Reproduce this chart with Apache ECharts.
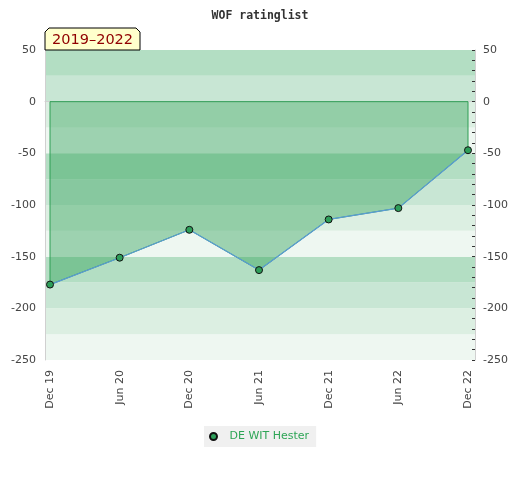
<!DOCTYPE html>
<html>
<head>
<meta charset="utf-8">
<script src="https://cdn.jsdelivr.net/npm/echarts@6/dist/echarts.min.js"></script>
<style>html,body{margin:0;padding:0;background:#fff}#c{width:520px;height:480px}</style>
</head>
<body>
<div id="c"></div>
<script>
var categories = ['Dec 19', 'Jun 20', 'Dec 20', 'Jun 21', 'Dec 21', 'Jun 22', 'Dec 22'];
var ratingValues = [-177, -151, -124, -163, -114, -103, -47];
var seriesName = 'DE WIT Hester';
var periodLabel = '2019\u20132022';
var yMin = -250, yMax = 50, yStep = 50, bandStep = 25;
var bandColors = ['#eef7f1', '#dcefe2', '#c8e6d4', '#b3dec3'];

var chart = echarts.init(document.getElementById('c'), null, {renderer: 'canvas'});
var font = 'DejaVu Sans';
chart.setOption({
  animation: false,
  title: {
    text: 'WOF ratinglist', left: 'center', top: 5,
    textStyle: {fontFamily: 'DejaVu Sans Mono', fontWeight: 'bold', fontSize: 11.5, color: '#333'}
  },
  legend: {
    data: [seriesName], top: 426, left: 204,
    backgroundColor: '#f0f0f0', padding: [5, 7, 5, 5],
    icon: 'circle', itemWidth: 8, itemHeight: 7, itemGap: 8,
    textStyle: {color: '#2ea556', fontFamily: font, fontSize: 11, padding: [0, 0, 0, 7]}
  },
  grid: [
    {left: 45, right: 45, top: 50, bottom: 120},
    {left: 50, right: 52, top: 50, bottom: 120}
  ],
  xAxis: [
    {type: 'value', gridIndex: 0, min: 0, max: 1, axisLabel: {show: false}, axisTick: {show: false},
     splitLine: {show: false}, axisLine: {show: true, lineStyle: {color: '#d0d0d0'}}},
    {type: 'category', gridIndex: 1, data: categories, boundaryGap: false,
     axisLine: {show: false}, axisTick: {show: false}, splitLine: {show: false},
     axisLabel: {rotate: 90, margin: 10, color: '#444', fontFamily: font, fontSize: 11, interval: 0}}
  ],
  yAxis: [
    {type: 'value', gridIndex: 0, min: yMin, max: yMax, interval: yStep, position: 'left',
     axisLine: {show: true, lineStyle: {color: '#d0d0d0'}}, axisTick: {show: false},
     splitLine: {show: false}, axisLabel: {margin: 9, color: '#444', fontFamily: font, fontSize: 11}},
    {type: 'value', gridIndex: 0, min: yMin, max: yMax, interval: yStep, position: 'right',
     axisLine: {show: true, lineStyle: {color: '#d0d0d0'}},
     axisTick: {show: true, inside: true, length: 3, lineStyle: {color: '#333'}},
     minorTick: {show: true, splitNumber: 5, length: 3, lineStyle: {color: '#333'}},
     splitLine: {show: false}, axisLabel: {margin: 8, color: '#444', fontFamily: font, fontSize: 11}},
    {type: 'value', gridIndex: 0, min: yMin, max: yMax, interval: bandStep, position: 'left',
     axisLine: {show: false}, axisTick: {show: false}, axisLabel: {show: false}, splitLine: {show: false},
     splitArea: {show: true, areaStyle: {color: bandColors}}},
    {type: 'value', gridIndex: 1, min: yMin, max: yMax, show: false}
  ],
  graphic: [
    {type: 'polygon', shape: {points: [[45, 50], [45, 32], [49, 28], [136, 28], [140, 32], [140, 50]]},
     style: {fill: '#ffffcc', stroke: '#000', lineWidth: 1}, z: 100},
    {type: 'text', x: 52, y: 40, style: {text: periodLabel, fill: '#900000', font: '14.5px DejaVu Sans', textVerticalAlign: 'middle'}, z: 101}
  ],
  series: [
    {
      type: 'custom', name: 'area', xAxisIndex: 1, yAxisIndex: 3, silent: true,
      data: ratingValues.map(function (v, i) { return [i, v]; }),
      renderItem: function (params, api) {
        if (params.dataIndex !== 0) return null;
        var n = ratingValues.length;
        var pts = [api.coord([0, 0])];
        for (var i = 0; i < n; i++) pts.push(api.coord([i, ratingValues[i]]));
        pts.push(api.coord([n - 1, 0]));
        return {type: 'polygon', shape: {points: pts},
          style: {fill: 'rgba(45,160,85,0.42)', stroke: '#2e9e55', lineWidth: 1}};
      },
      z: 2
    },
    {
      type: 'line', name: seriesName, xAxisIndex: 1, yAxisIndex: 3, data: ratingValues,
      symbol: 'circle', symbolSize: 7,
      itemStyle: {color: '#2e9e5a', borderColor: '#111', borderWidth: 1},
      lineStyle: {color: '#5b9bd5', width: 1.2},
      z: 3
    }
  ]
});
</script>
</body>
</html>
